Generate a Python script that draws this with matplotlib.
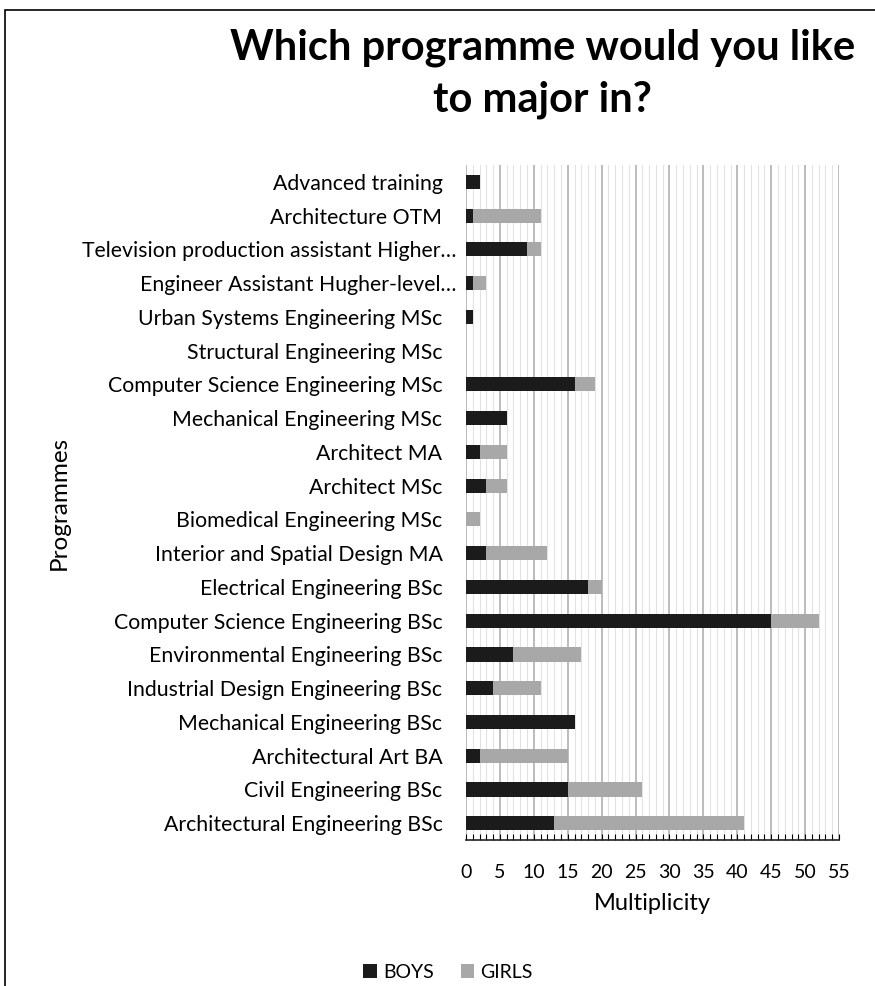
import matplotlib.pyplot as plt
import numpy as np
from matplotlib.patches import Rectangle
from matplotlib.ticker import MultipleLocator
from matplotlib.transforms import ScaledTranslation

# Categories listed from bottom to top of the chart
programmes = [
    "Architectural Engineering BSc",
    "Civil Engineering BSc",
    "Architectural Art BA",
    "Mechanical Engineering BSc",
    "Industrial Design Engineering BSc",
    "Environmental Engineering BSc",
    "Computer Science Engineering BSc",
    "Electrical Engineering BSc",
    "Interior and Spatial Design MA",
    "Biomedical Engineering MSc",
    "Architect MSc",
    "Architect MA",
    "Mechanical Engineering MSc",
    "Computer Science Engineering MSc",
    "Structural Engineering MSc",
    "Urban Systems Engineering MSc",
    "Engineer Assistant Hugher-level\u2026",
    "Television production assistant Higher\u2026",
    "Architecture OTM",
    "Advanced training",
]
boys = [13, 15, 2, 16, 4, 7, 45, 18, 3, 0, 3, 2, 6, 16, 0, 1, 1, 9, 1, 2]
girls = [28, 11, 13, 0, 7, 10, 7, 2, 9, 2, 3, 4, 0, 3, 0, 0, 2, 2, 10, 0]
xticks = list(range(0, 56, 5))

plt.rcParams["font.family"] = ["Lato", "DejaVu Sans"]

fig = plt.figure(figsize=(8.75, 9.86), dpi=100)
ax = fig.add_axes([0.5326, 0.148, 0.4263, 0.6847])

y = np.arange(len(programmes))
ax.barh(y, boys, height=0.42, color="#1b1b1b", label="BOYS", zorder=3)
ax.barh(y, girls, left=boys, height=0.42, color="#a8a8a8", label="GIRLS", zorder=3)

ax.set_xlim(0, 55)
ax.set_ylim(-0.5, len(programmes) - 0.5)
ax.set_xticks(xticks)
ax.xaxis.set_minor_locator(MultipleLocator(1))
ax.set_yticks(y)
ax.set_yticklabels(programmes, fontsize=15.3)
ax.tick_params(axis="y", length=0, pad=17)
ax.tick_params(axis="x", which="both", direction="in", length=4, width=0.8,
               labelsize=14, pad=17)

# the truncated labels sit a bit further right in the original
for lbl in ax.get_yticklabels():
    if lbl.get_text().endswith("\u2026"):
        lbl.set_transform(lbl.get_transform() + ScaledTranslation(0.14, 0, fig.dpi_scale_trans))

ax.grid(axis="x", which="major", color="#b0b0b0", linewidth=1.2, zorder=0)
ax.grid(axis="x", which="minor", color="#e2e2e2", linewidth=0.8, zorder=0)
for side in ["top", "left", "right"]:
    ax.spines[side].set_visible(False)
ax.spines["bottom"].set_color("#222222")
ax.spines["bottom"].set_linewidth(1.2)

ax.set_xlabel("Multiplicity", fontsize=17, labelpad=9)
fig.text(0.068, 0.49, "Programmes", rotation=90, fontsize=17.5,
         ha="center", va="center")

fig.text(0.62, 0.925, "Which programme would you like\nto major in?",
         fontsize=30, fontweight="bold", ha="center", va="center",
         linespacing=1.45)

fig.legend(loc="center", bbox_to_anchor=(0.512, 0.014), ncol=2, frameon=False,
           fontsize=14, handlelength=0.7, handleheight=0.7,
           handletextpad=0.3, columnspacing=1.4)

# outer chart border, clipped at the right and bottom like the screenshot
fig.patches.append(Rectangle((0.006, -0.05), 1.2, 1.04, transform=fig.transFigure,
                             fill=False, edgecolor="black", linewidth=1.2))

fig.savefig("out.png", dpi=100)
